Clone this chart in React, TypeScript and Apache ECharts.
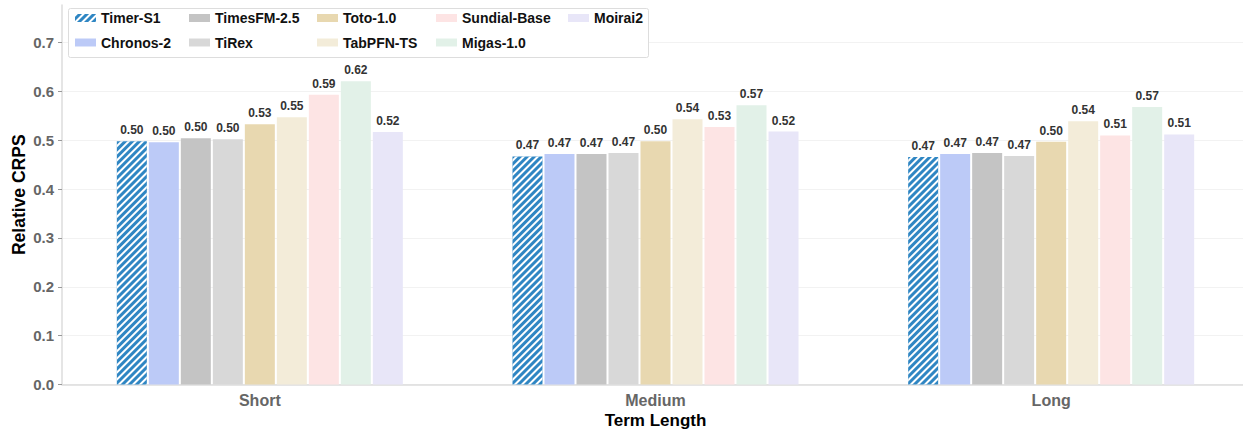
import React, { useEffect, useRef } from "react";
import * as echarts from "echarts";

const categories = ["Short", "Medium", "Long"];
const yTicks = [0, 0.1, 0.2, 0.3, 0.4, 0.5, 0.6, 0.7];

const modelNames = [
  "Timer-S1",
  "Chronos-2",
  "TimesFM-2.5",
  "TiRex",
  "Toto-1.0",
  "TabPFN-TS",
  "Sundial-Base",
  "Migas-1.0",
  "Moirai2",
];
const timerS1 = [0.498, 0.467, 0.466];
const chronos2 = [0.496, 0.472, 0.472];
const timesFM25 = [0.504, 0.472, 0.474];
const tiRex = [0.502, 0.474, 0.468];
const toto10 = [0.533, 0.498, 0.497];
const tabPFNTS = [0.547, 0.543, 0.539];
const sundialBase = [0.593, 0.527, 0.51];
const migas10 = [0.621, 0.572, 0.568];
const moirai2 = [0.517, 0.518, 0.512];

const seriesValues = [timerS1, chronos2, timesFM25, tiRex, toto10, tabPFNTS, sundialBase, migas10, moirai2];
const colors = ["#2f86c3", "#bccaf7", "#c4c4c4", "#d8d8d8", "#e8d8b0", "#f3ecd9", "#fde4e4", "#e2f1e8", "#e8e6f8"];

const legendColumns = [
  ["Timer-S1", "Chronos-2"],
  ["TimesFM-2.5", "TiRex"],
  ["Toto-1.0", "TabPFN-TS"],
  ["Sundial-Base", "Migas-1.0"],
  ["Moirai2"],
];
const legendLefts = [75, 189, 317, 436, 568];

const FONT = "Liberation Sans, Arial, sans-serif";

export default function App() {
  const ref = useRef<HTMLDivElement>(null);
  useEffect(() => {
    if (!ref.current) return;
    const chart = echarts.init(ref.current, undefined, { renderer: "svg" });
    const series = modelNames.map((name, i) => ({
      name,
      type: "bar",
      data: seriesValues[i],
      barWidth: 30,
      barGap: "6.67%",
      itemStyle: {
        color: colors[i],
        ...(i === 0
          ? {
              decal: {
                symbol: "rect",
                symbolSize: 1,
                color: "#ffffff",
                dashArrayX: [1, 0],
                dashArrayY: [2, 3],
                rotation: -Math.PI / 4,
              },
            }
          : {}),
      },
      label: {
        show: true,
        position: "top",
        distance: 5,
        fontFamily: FONT,
        fontSize: 12,
        fontWeight: "bold",
        color: "#333",
        formatter: (p: any) => Number(p.value).toFixed(2),
      },
    }));
    chart.setOption({
      animation: false,
      backgroundColor: "#ffffff",
      textStyle: { fontFamily: FONT },
      grid: {
        left: 62,
        top: 5,
        width: 1187,
        height: 379.5,
        containLabel: false,
        outerBoundsMode: "none",
      },
      legend: legendColumns.map((col, j) => ({
        data: col,
        orient: "vertical",
        left: legendLefts[j],
        top: 11,
        padding: 0,
        itemWidth: 21,
        itemHeight: 8,
        itemGap: 10.5,
        selectedMode: false,
        icon: "rect",
        textStyle: { fontFamily: FONT, fontSize: 14, fontWeight: "bold", color: "#111", lineHeight: 14 },
      })),
      graphic: [
        {
          type: "rect",
          z: 3,
          shape: { x: 68.5, y: 8.5, width: 580, height: 49, r: 2 },
          style: { fill: "#ffffff", stroke: "#dddddd", lineWidth: 1 },
        },
      ],
      xAxis: {
        type: "category",
        data: categories,
        name: "Term Length",
        nameLocation: "middle",
        nameGap: 27,
        nameMoveOverlap: false,
        nameTextStyle: { fontFamily: FONT, fontSize: 17, fontWeight: "bold", color: "#000" },
        axisLine: { lineStyle: { color: "#dddddd", width: 1.5 } },
        axisTick: { alignWithLabel: true, length: 4, lineStyle: { color: "#999" } },
        axisLabel: { fontFamily: FONT, fontSize: 16, fontWeight: "bold", color: "#666", margin: 8 },
      },
      yAxis: {
        type: "value",
        min: 0,
        max: 0.777,
        interval: 0.1,
        name: "Relative CRPS",
        nameLocation: "middle",
        nameGap: 34,
        nameMoveOverlap: false,
        nameTextStyle: { fontFamily: FONT, fontSize: 17.5, fontWeight: "bold", color: "#000" },
        axisLine: { show: true, lineStyle: { color: "#dddddd", width: 1.5 } },
        axisTick: { show: true, length: 4, lineStyle: { color: "#999" }, customValues: yTicks },
        axisLabel: {
          fontFamily: FONT,
          fontSize: 15,
          fontWeight: "bold",
          color: "#666",
          margin: 8,
          customValues: yTicks,
          formatter: (v: number) => v.toFixed(1),
        },
        splitLine: { show: true, lineStyle: { color: "#f2f2f2", width: 1 } },
      },
      series,
    });
    return () => chart.dispose();
  }, []);
  return (
    <div
      ref={ref}
      style={{ position: "fixed", left: 0, top: 0, width: 1243, height: 429 }}
    />
  );
}
